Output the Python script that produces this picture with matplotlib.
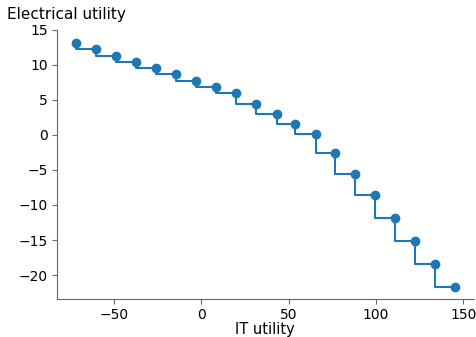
import matplotlib
matplotlib.use("Agg")
import matplotlib.pyplot as plt

# values
it_utility = [-71.9, -60.3, -48.7, -37.2, -25.8, -14.3, -2.9, 8.4, 19.7, 31.5,
              43.5, 53.7, 65.5, 76.7, 88.2, 99.3, 111.1, 122.6, 133.8, 145.1]
elec_utility = [13.15, 12.26, 11.31, 10.41, 9.52, 8.61, 7.71, 6.86, 5.91, 4.45,
                2.98, 1.61, 0.14, -2.56, -5.6, -8.58, -11.85, -15.16, -18.42, -21.73]

color = "#1f77b4"

fig = plt.figure(figsize=(4.77, 3.37), dpi=100)
ax = fig.add_axes([0.1195, 0.112, 0.8735, 0.800])

ax.step(it_utility, elec_utility, where="pre", color=color, lw=1.5)
ax.plot(it_utility, elec_utility, "o", color=color, ms=6)

ax.set_xlim(-82.75, 156.0)
ax.set_ylim(-23.45, 15.0)
ax.set_xticks([-50, 0, 50, 100, 150])
ax.set_yticks([-20, -15, -10, -5, 0, 5, 10, 15])

for side in ("top", "right"):
    ax.spines[side].set_visible(False)
for side in ("left", "bottom"):
    ax.spines[side].set_color("0.4")
ax.tick_params(colors="0.4", labelcolor="black", labelsize=10, pad=3)

# keep the x label just inside the bottom edge
ax.set_xlabel("IT utility", fontsize=10.5, labelpad=-0.5)
ax.set_ylabel("Electrical utility", fontsize=11, rotation=0, ha="left", va="bottom")
ax.yaxis.set_label_coords(-0.12, 1.03)

fig.savefig("out.png", dpi=100)
